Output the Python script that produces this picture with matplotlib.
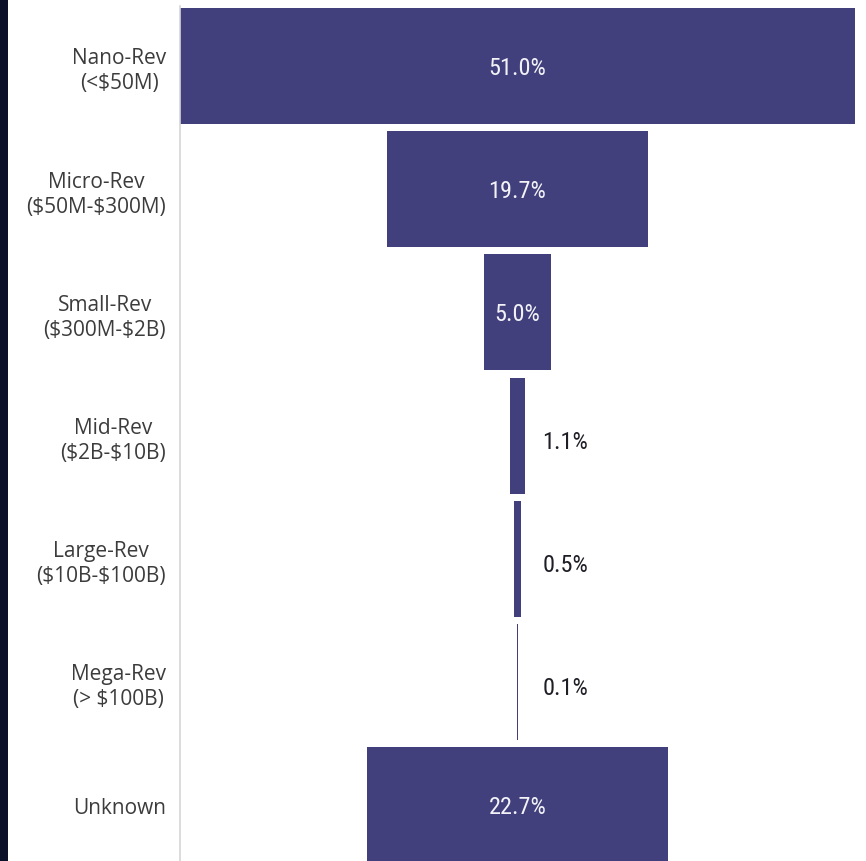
import matplotlib
matplotlib.use("Agg")
import matplotlib.pyplot as plt
from matplotlib.patches import Rectangle

# revenue bands and share of companies (%)
categories = [
    "Nano-Rev\n(<\\$50M)",
    "Micro-Rev\n(\\$50M-\\$300M)",
    "Small-Rev\n(\\$300M-\\$2B)",
    "Mid-Rev\n(\\$2B-\\$10B)",
    "Large-Rev\n(\\$10B-\\$100B)",
    "Mega-Rev\n(> \\$100B)",
    "Unknown",
]
shares = [51.0, 19.7, 5.0, 1.1, 0.5, 0.1, 22.7]

BAR = "#41407c"
W, H = 866, 862

fig = plt.figure(figsize=(W / 100, H / 100), dpi=100)
fig.patch.set_facecolor("white")
# dark strip down the left edge
fig.patches.append(Rectangle((0, 0), 8 / W, 1, transform=fig.transFigure,
                             facecolor="#0a1128", edgecolor="none", zorder=0))

ax = fig.add_axes([180 / W, 0, 675 / W, 1])
ax.set_facecolor("white")

pitch = 123.2
top = 67
ypos = list(range(len(categories)))
lefts = [-s / 2 for s in shares]
ax.barh(ypos, shares, left=lefts, height=116 / pitch, color=BAR,
        edgecolor="none", zorder=2)

half = max(shares) / 2
ax.set_xlim(-half, half)
ax.set_ylim((H - top) / pitch, -top / pitch)

# value labels: inside the wide bars, to the right of the narrow ones
label_font = ["Roboto Condensed", "Liberation Sans Narrow", "Roboto"]
for y, s in zip(ypos, shares):
    txt = f"{s:.1f}%"
    if s >= 5:
        ax.text(0, y + 1.5 / pitch, txt, ha="center", va="center",
                color="#f2f2f8", fontsize=17.5, family=label_font, zorder=3)
    else:
        ax.text(half * 25 / 337.5, y + 6 / pitch, txt, ha="left",
                va="center", color="#1e1e26", fontsize=17.5,
                family=label_font, zorder=3)

ax.set_yticks(ypos)
ax.set_yticklabels(categories, fontsize=15, color="#3c3c3c",
                   family=["Open Sans", "DejaVu Sans"], linespacing=1.25)
for lbl in ax.get_yticklabels():
    lbl.set_multialignment("center")
ax.tick_params(axis="y", length=0, pad=10)
ax.set_xticks([])

for side in ["top", "right", "bottom"]:
    ax.spines[side].set_visible(False)
ax.spines["left"].set_color("#d6d6d6")
ax.spines["left"].set_linewidth(1.2)
ax.spines["left"].set_bounds((7 - top) / pitch, (H - top) / pitch)

fig.savefig("out.png", dpi=100, facecolor="white")
